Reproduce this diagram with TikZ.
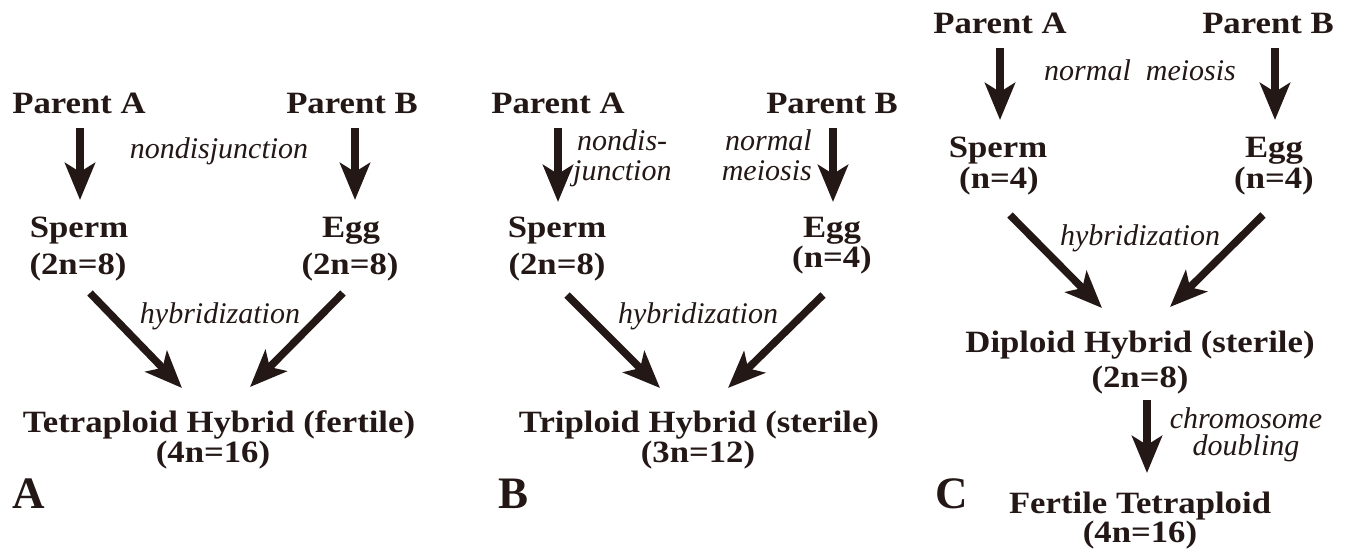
\documentclass[tikz,border=0pt]{standalone}
\usepackage{fontspec}
\setmainfont{Liberation Serif}
\newfontfamily\bfont{Liberation Serif}[FakeStretch=1.12]
\usetikzlibrary{arrows.meta}
\definecolor{ink}{HTML}{231815}
\tikzset{
  bold/.style={inner sep=0pt, anchor=base, text=ink, font=\bfont\bfseries\fontsize{31}{36}\selectfont},
  ital/.style={inner sep=0pt, anchor=base, text=ink, font=\itshape\fontsize{30}{27}\selectfont},
  panel/.style={inner sep=0pt, anchor=base west, text=ink, font=\bfseries\fontsize{45}{50}\selectfont},
  arr/.style={draw=ink, line width=7.5pt, -{Stealth[length=37pt,width=30pt,inset=9pt]}}
}
\begin{document}
\begin{tikzpicture}[x=1pt,y=-1pt]
\useasboundingbox (0,0) rectangle (1350,557);
% ---------- Panel A ----------
\node[bold] (A-pa) at (79,113) {Parent A};
\node[bold] (A-pb) at (352,113) {Parent B};
\node[ital] (A-nd) at (219,158) {nondisjunction};
\node[bold] (A-sp) at (79,237) {Sperm};
\node[bold] (A-spn) at (78,274) {(2n=8)};
\node[bold] (A-eg) at (351,237) {Egg};
\node[bold] (A-egn) at (350,274) {(2n=8)};
\node[ital] (A-hz) at (220,323) {hybridization};
\node[bold] (A-hy) at (219,432) {Tetraploid Hybrid (fertile)};
\node[bold] (A-hyn) at (213,462) {(4n=16)};
\node[panel] (A-lab) at (12,508) {A};
\draw[arr] ([xshift=1pt,yshift=-15pt]A-pa.base) -- ([xshift=1pt,yshift=37pt]A-sp.base);
\draw[arr] ([xshift=3pt,yshift=-15pt]A-pb.base) -- ([xshift=4pt,yshift=37pt]A-eg.base);
\draw[arr] ([xshift=12pt,yshift=-19pt]A-spn.base) -- ([xshift=-37pt,yshift=44pt]A-hy.base);
\draw[arr] ([xshift=-7pt,yshift=-19pt]A-egn.base) -- ([xshift=31pt,yshift=45pt]A-hy.base);
% ---------- Panel B ----------
\node[bold] (B-pa) at (558,113) {Parent A};
\node[bold] (B-pb) at (832,113) {Parent B};
\node[ital,anchor=base west] (B-nd1) at (577,150) {nondis-};
\node[ital,anchor=base west] (B-nd2) at (573,180) {junction};
\node[ital,anchor=base east] (B-nm1) at (812,150) {normal};
\node[ital,anchor=base east] (B-nm2) at (812,180) {meiosis};
\node[bold] (B-sp) at (557,237) {Sperm};
\node[bold] (B-spn) at (557,274) {(2n=8)};
\node[bold] (B-eg) at (832,237) {Egg};
\node[bold] (B-egn) at (832,267) {(n=4)};
\node[ital] (B-hz) at (698,323) {hybridization};
\node[bold] (B-hy) at (699,432) {Triploid Hybrid (sterile)};
\node[bold] (B-hyn) at (698,462) {(3n=12)};
\node[panel] (B-lab) at (498,508) {B};
\draw[arr] ([yshift=-15pt]B-pa.base) -- ([xshift=1pt,yshift=35pt]B-sp.base);
\draw[arr] ([xshift=1pt,yshift=-15pt]B-pb.base) -- ([xshift=1pt,yshift=35pt]B-eg.base);
\draw[arr] ([xshift=10pt,yshift=-21pt]B-spn.base) -- ([xshift=-39pt,yshift=44pt]B-hy.base);
\draw[arr] ([xshift=-9pt,yshift=-28pt]B-egn.base) -- ([xshift=29pt,yshift=44pt]B-hy.base);
% ---------- Panel C ----------
\node[bold] (C-pa) at (1000,33) {Parent A};
\node[bold] (C-pb) at (1268,33) {Parent B};
\node[ital] (C-nm) at (1140,80) {normal\ \ meiosis};
\node[bold] (C-sp) at (998,157) {Sperm};
\node[bold] (C-spn) at (999,188) {(n=4)};
\node[bold] (C-eg) at (1274,157) {Egg};
\node[bold] (C-egn) at (1274,188) {(n=4)};
\node[ital] (C-hz) at (1140,245) {hybridization};
\node[bold] (C-dh) at (1140,352) {Diploid Hybrid (sterile)};
\node[bold] (C-dhn) at (1140,387) {(2n=8)};
\node[ital,anchor=north,align=center] (C-cd) at (1246,407.5) {chromosome\\doubling};
\node[panel] (C-lab) at (935,508) {C};
\node[bold] (C-ft) at (1140,513) {Fertile Tetraploid};
\node[bold] (C-ftn) at (1140,542) {(4n=16)};
\draw[arr] ([yshift=-15pt]C-pa.base) -- ([xshift=2pt,yshift=37pt]C-sp.base);
\draw[arr] ([xshift=7pt,yshift=-15pt]C-pb.base) -- ([xshift=1pt,yshift=37pt]C-eg.base);
\draw[arr] ([xshift=11pt,yshift=-27pt]C-spn.base) -- ([xshift=-38pt,yshift=44pt]C-dh.base);
\draw[arr] ([xshift=-11pt,yshift=-27pt]C-egn.base) -- ([xshift=30pt,yshift=45pt]C-dh.base);
\draw[arr] ([xshift=7pt,yshift=-13pt]C-dhn.base) -- ([xshift=7pt,yshift=40pt]C-ft.base);
\end{tikzpicture}
\end{document}
